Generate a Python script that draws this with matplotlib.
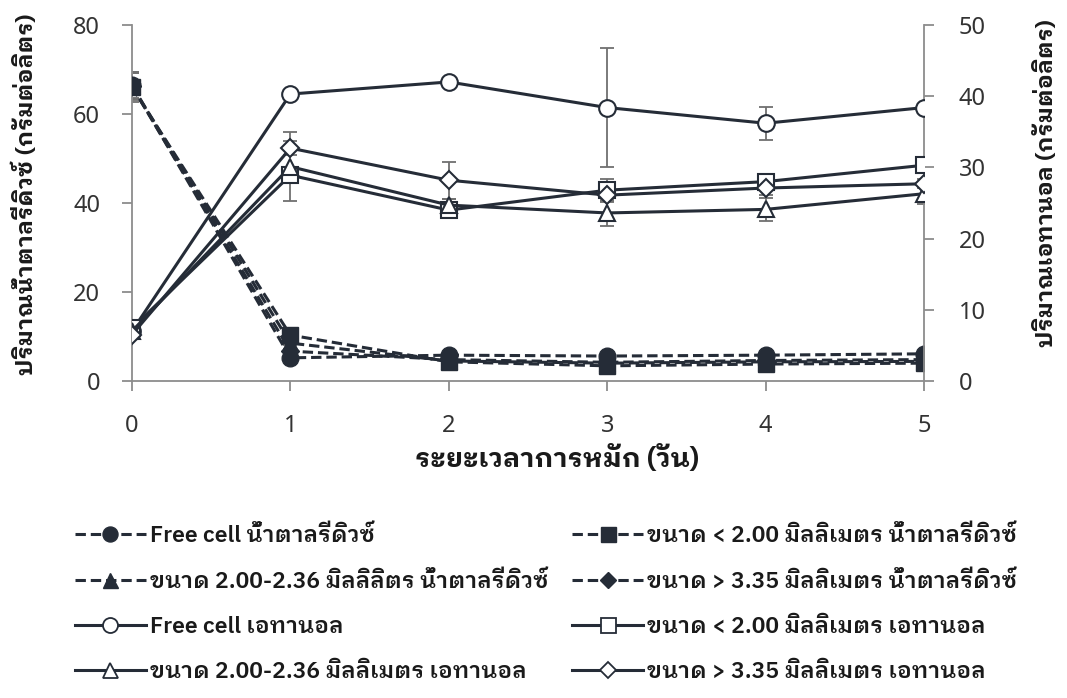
import matplotlib
matplotlib.use("Agg")
import matplotlib.pyplot as plt
from matplotlib.lines import Line2D

# ---------------- data ----------------
days = [0, 1, 2, 3, 4, 5]
day_ticks = [0, 1, 2, 3, 4, 5]
left_ticks = [0, 20, 40, 60, 80]
right_ticks = [0, 10, 20, 30, 40, 50]

sugar_free = [66.5, 5.2, 5.8, 5.6, 5.8, 6.1]
sugar_lt200 = [66.0, 10.3, 4.3, 3.4, 3.8, 4.0]
sugar_200_236 = [66.3, 8.5, 4.5, 4.0, 4.3, 4.4]
sugar_gt335 = [66.2, 6.7, 4.8, 4.2, 4.6, 4.8]
sugar_free_err = [3.0, 0.5, 0.5, 0.4, 0.4, 0.4]
sugar_lt200_err = [3.4, 0.5, 0.4, 0.4, 0.4, 0.4]
sugar_200_236_err = [3.0, 0.5, 0.4, 0.4, 0.4, 0.4]
sugar_gt335_err = [3.0, 0.5, 0.4, 0.4, 0.4, 0.4]

eth_free = [7.0, 40.3, 42.0, 38.4, 36.2, 38.4]
eth_lt200 = [7.4, 28.9, 24.0, 26.8, 28.0, 30.3]
eth_200_236 = [7.0, 30.1, 24.7, 23.6, 24.1, 26.3]
eth_gt335 = [6.5, 32.7, 28.2, 26.1, 27.1, 27.7]
eth_free_err = [0.5, 0.6, 0.6, 8.4, 2.3, 0.5]
eth_lt200_err = [0.5, 1.0, 0.8, 1.5, 1.0, 0.5]
eth_200_236_err = [0.5, 4.8, 0.8, 1.8, 1.6, 1.4]
eth_gt335_err = [0.5, 1.0, 2.6, 1.0, 1.0, 0.6]

labels = [
    "Free cell น้ำตาลรีดิวซ์",
    "ขนาด < 2.00 มิลลิเมตร น้ำตาลรีดิวซ์",
    "ขนาด 2.00-2.36 มิลลิลิตร น้ำตาลรีดิวซ์",
    "ขนาด > 3.35 มิลลิเมตร น้ำตาลรีดิวซ์",
    "Free cell เอทานอล",
    "ขนาด < 2.00 มิลลิเมตร เอทานอล",
    "ขนาด 2.00-2.36 มิลลิเมตร เอทานอล",
    "ขนาด > 3.35 มิลลิเมตร เอทานอล",
]
xlabel = "ระยะเวลาการหมัก (วัน)"
ylabel_left = "ปริมาณน้ำตาลรีดิวซ์ (กรัมต่อลิตร)"
ylabel_right = "ปริมาณเอทานอล (กรัมต่อลิตร)"

# ---------------- style ----------------
BOLD_FONT = ["IBM Plex Sans Thai Looped", "Noto Sans Thai Looped", "DejaVu Sans"]
TICK_FONT = ["Noto Sans Thai Looped", "DejaVu Sans"]
plt.rcParams["font.family"] = TICK_FONT
C = "#252c37"
GRAY = "#8c8c8c"
ERR = "#707070"
TXT = "#1a1a1a"

fig = plt.figure(figsize=(10.67, 6.98), dpi=100)
ax = fig.add_axes([0.1237, 0.4542, 0.7423, 0.51])
ax2 = ax.twinx()

sugar = [sugar_free, sugar_lt200, sugar_200_236, sugar_gt335]
sugar_err = [sugar_free_err, sugar_lt200_err, sugar_200_236_err, sugar_gt335_err]
eth = [eth_free, eth_lt200, eth_200_236, eth_gt335]
eth_err = [eth_free_err, eth_lt200_err, eth_200_236_err, eth_gt335_err]
markers = ["o", "s", "^", "D"]
msizes = [12, 12, 12, 9]
DASH = (0, (3.4, 1.6))

for vals, err, m, ms in zip(sugar, sugar_err, markers, msizes):
    ax.errorbar(days, vals, yerr=err, fmt="none", ecolor=ERR, elinewidth=1.3,
                capsize=5, capthick=1.3, zorder=2)
    ax.plot(days, vals, linestyle=DASH, color=C, lw=2.2, marker=m,
            markersize=ms, markerfacecolor=C, markeredgecolor=C, zorder=3)
for vals, err, m, ms in zip(eth, eth_err, markers, msizes):
    ax2.errorbar(days, vals, yerr=err, fmt="none", ecolor=ERR, elinewidth=1.3,
                 capsize=5, capthick=1.3, zorder=2)
    ax2.plot(days, vals, linestyle="-", color=C, lw=2.2, marker=m,
             markersize=ms, markerfacecolor="white", markeredgecolor=C,
             markeredgewidth=1.5, zorder=3)

handles = []
for m, ms in zip(markers, msizes):
    handles.append(Line2D([], [], linestyle=DASH, color=C, lw=2.2,
                          marker=m, markersize=ms * 0.9, markerfacecolor=C,
                          markeredgecolor=C))
for m, ms in zip(markers, msizes):
    handles.append(Line2D([], [], linestyle="-", color=C, lw=2.2, marker=m,
                          markersize=ms * 0.9, markerfacecolor="white",
                          markeredgecolor=C, markeredgewidth=1.3))

ax.set_xlim(0, 5)
ax.set_ylim(0, 80)
ax2.set_ylim(0, 50)
ax.set_xticks(day_ticks)
ax.set_yticks(left_ticks)
ax2.set_yticks(right_ticks)

for a in (ax, ax2):
    a.spines["top"].set_visible(False)
    for s in ("left", "right", "bottom"):
        a.spines[s].set_color(GRAY)
        a.spines[s].set_linewidth(1.3)
    a.tick_params(colors=GRAY, labelcolor="#333333", labelsize=17, length=7,
                  width=1.3, direction="out")
ax.spines["right"].set_visible(False)
ax2.spines["left"].set_visible(False)
ax2.spines["bottom"].set_visible(False)
ax.tick_params(axis="x", pad=17)
ax.tick_params(axis="y", pad=16)
ax2.tick_params(axis="y", pad=18)
for t in ax.get_xticklabels() + ax.get_yticklabels() + ax2.get_yticklabels():
    t.set_fontweight("light")

ax.set_xlabel(xlabel, family=BOLD_FONT, fontweight="bold", fontsize=19.5,
              color=TXT, labelpad=5)
ax.xaxis.label.set_x(0.537)
ax.set_ylabel(ylabel_left, family=BOLD_FONT, fontweight="bold", fontsize=16.8,
              color=TXT)
ax2.set_ylabel(ylabel_right, family=BOLD_FONT, fontweight="bold", fontsize=16.8,
               color=TXT, rotation=90)
ax.yaxis.set_label_coords(-0.12, 0.525)
ax2.yaxis.set_label_coords(1.138, 0.556)

prop = {"family": BOLD_FONT, "weight": "semibold", "size": 16.5}
common = dict(loc="upper left", frameon=False, handlelength=3.1,
              handletextpad=0.18, labelspacing=1.05, prop=prop)
leg1 = fig.legend([handles[i] for i in (0, 2, 4, 6)],
                  [labels[i] for i in (0, 2, 4, 6)],
                  bbox_to_anchor=(0.0506, 0.279), **common)
leg2 = fig.legend([handles[i] for i in (1, 3, 5, 7)],
                  [labels[i] for i in (1, 3, 5, 7)],
                  bbox_to_anchor=(0.517, 0.279), **common)
for lg in (leg1, leg2):
    for t in lg.get_texts():
        t.set_color(TXT)

fig.savefig("out.png", dpi=100)
